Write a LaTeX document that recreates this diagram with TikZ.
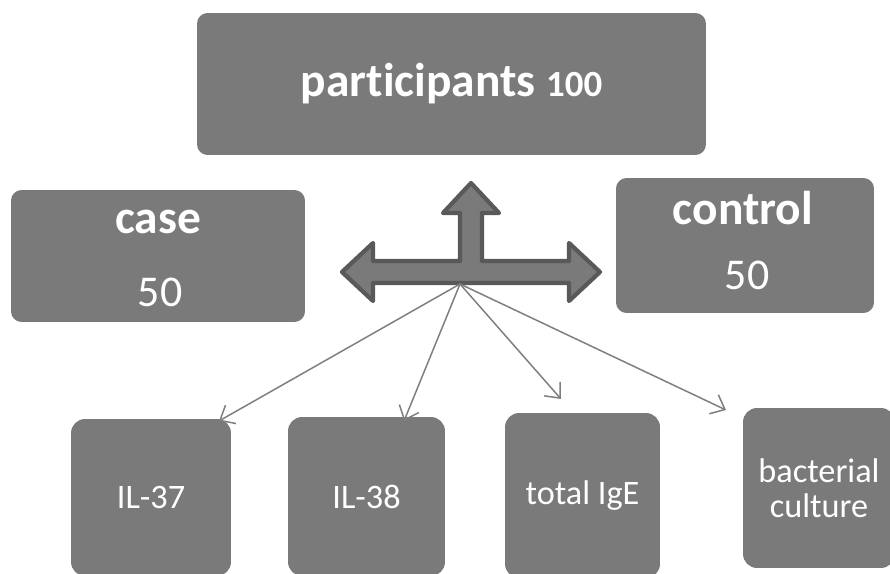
\documentclass[tikz,border=0pt]{standalone}
\usepackage{fontspec}
\setmainfont{Carlito}[Ligatures=NoCommon]
\usetikzlibrary{arrows.meta}
\definecolor{boxgray}{HTML}{7A7A7A}
\definecolor{edgegray}{HTML}{595959}
\definecolor{linegray}{HTML}{7F7F7F}

\begin{document}
\begin{tikzpicture}[x=0.02cm, y=-0.02cm,
  box/.style={fill=boxgray, rounded corners=6pt, text=white, inner sep=0pt},
  leaf/.style={box, rounded corners=8pt, align=center, font=\fontsize{19.5}{20}\selectfont},
  ttl/.style={text=white, inner sep=0pt, font=\fontsize{27}{27}\selectfont\bfseries},
  num/.style={text=white, inner sep=0pt, font=\fontsize{25}{25}\selectfont},
  link/.style={draw=linegray, line width=0.85pt, -{Straight Barb[length=7pt,width=12pt]}}]
  \useasboundingbox (0,0) rectangle (890,574);
  \clip (0,0) rectangle (890,574);

  \node [box, minimum width=10.18cm, minimum height=2.84cm, font=\fontsize{27}{27}\selectfont\bfseries] (part) at (451.5,84) {participants {\fontsize{21}{21}\selectfont 100}};

  \node [box, minimum width=5.88cm, minimum height=2.64cm] (case) at (158,256) {};
  \node [ttl, anchor=base] (casettl) at (158,234) {case};
  \node [num, anchor=base] (casenum) at (160,307) {50};

  \node [box, minimum width=5.16cm, minimum height=2.7cm] (ctrl) at (745,245.5) {};
  \node [ttl, anchor=base] (ctrlttl) at (743,225) {control};
  \node [num, anchor=base] (ctrlnum) at (747,290) {50};

  \node [leaf, minimum width=3.2cm, minimum height=3.14cm] (il37) at (151,497.5) {IL-37};
  \node [leaf, minimum width=3.14cm, minimum height=3.18cm] (il38) at (366.5,496.5) {IL-38};
  \node [leaf, minimum width=3.1cm, minimum height=3.3cm] (ige) at (582.5,495.5) {total IgE};
  \node [leaf, minimum width=3.04cm, minimum height=3.2cm] (bact) at (819,488) {bacterial\\culture};

  \draw [fill=boxgray, draw=edgegray, line width=2.4pt, line join=round]
    (342,272) -- (373,243) -- (373,261) -- (460,261) -- (460,213) -- (443,213)
    -- (471,183) -- (499,213) -- (482,213) -- (482,261) -- (569,261) -- (569,243)
    -- (600,272) -- (569,301) -- (569,283) -- (373,283) -- (373,301) -- cycle;

  \coordinate (hub) at (460,284);
  \coordinate (t37) at (219,421);
  \coordinate (t38) at (404,421);
  \coordinate (tige) at (561,399);
  \coordinate (tbact) at (726,410);

  \draw [link] (hub) -- (t37);
  \draw [link] (hub) -- (t38);
  \draw [link] (hub) -- (tige);
  \draw [link] (hub) -- (tbact);
\end{tikzpicture}
\end{document}
